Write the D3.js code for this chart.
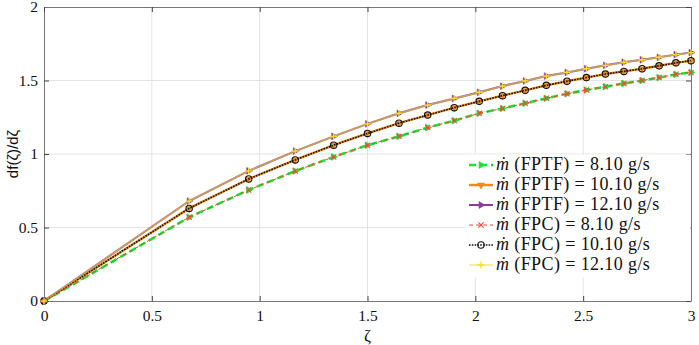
<!DOCTYPE html>
<html>
<head>
<meta charset="utf-8">
<script src="https://cdn.jsdelivr.net/npm/d3@7"></script>
<style>
  body { margin: 0; background: #fff; }
  svg { display: block; }
</style>
</head>
<body>
<svg id="chart" width="699" height="345"></svg>
<script>
// values
const zeta = [0, 0.673, 0.949, 1.165, 1.343, 1.5, 1.646, 1.779, 1.902, 2.018, 2.126, 2.231, 2.329, 2.425, 2.515, 2.603, 2.689, 2.773, 2.852, 2.93, 3.0];

const fptf810  = [0, 0.57, 0.755, 0.884, 0.98, 1.06, 1.12, 1.18, 1.227, 1.277, 1.31, 1.345, 1.379, 1.41, 1.435, 1.458, 1.48, 1.50, 1.52, 1.542, 1.555];
const fptf1010 = [0, 0.63, 0.83, 0.96, 1.06, 1.14, 1.21, 1.265, 1.315, 1.358, 1.397, 1.433, 1.467, 1.495, 1.52, 1.544, 1.562, 1.58, 1.60, 1.62, 1.635];
const fptf1210 = [0, 0.68, 0.885, 1.02, 1.12, 1.205, 1.277, 1.333, 1.378, 1.42, 1.462, 1.497, 1.53, 1.555, 1.58, 1.603, 1.624, 1.641, 1.658, 1.676, 1.69];
const fpc810   = [0, 0.57, 0.755, 0.884, 0.98, 1.06, 1.12, 1.18, 1.227, 1.277, 1.31, 1.345, 1.379, 1.41, 1.435, 1.458, 1.48, 1.50, 1.52, 1.542, 1.555];
const fpc1010  = [0, 0.63, 0.83, 0.96, 1.06, 1.14, 1.21, 1.265, 1.315, 1.358, 1.397, 1.433, 1.467, 1.495, 1.52, 1.544, 1.562, 1.58, 1.60, 1.62, 1.635];
const fpc1210  = [0, 0.68, 0.885, 1.02, 1.12, 1.205, 1.277, 1.333, 1.378, 1.42, 1.462, 1.497, 1.53, 1.555, 1.58, 1.603, 1.624, 1.641, 1.658, 1.676, 1.69];

const xTicks = [0, 0.5, 1, 1.5, 2, 2.5, 3];
const yTicks = [0, 0.5, 1, 1.5, 2];
const legendLabels = [
  '(FPTF) = 8.10 g/s', '(FPTF) = 10.10 g/s', '(FPTF) = 12.10 g/s',
  '(FPC) = 8.10 g/s', '(FPC) = 10.10 g/s', '(FPC) = 12.10 g/s'
];

const series = [
  {vals: fptf810,  color: '#14e62d', width: 2.6, dash: '7,4', marker: 'right', op: 1},
  {vals: fptf1010, color: '#ef8a17', width: 2.4, dash: null,  marker: 'down',  op: 1},
  {vals: fptf1210, color: '#8a3d96', width: 2.0, dash: null,  marker: 'right', op: 1},
  {vals: fpc810,   color: '#f0483c', width: 1.0, dash: '4,3', marker: 'x',     op: 1},
  {vals: fpc1010,  color: '#111111', width: 1.6, dash: '1.6,1.2', marker: 'o', op: 1},
  {vals: fpc1210,  color: '#f2dc3a', width: 1.8, dash: null,  marker: '+',     op: 0.6},
];

const SERIF = '"Liberation Serif"';

const svg = d3.select('#chart');
const L = 44, R = 691, T = 7, B = 301;

const x = d3.scaleLinear().domain([0, 3]).range([L, R]);
const y = d3.scaleLinear().domain([0, 2]).range([B, T]);

// grid
const grid = svg.append('g');
grid.selectAll('.gx').data(xTicks.slice(1, -1)).enter().append('line')
  .attr('x1', d => x(d)).attr('x2', d => x(d)).attr('y1', T).attr('y2', B)
  .attr('stroke', '#e3e3e3').attr('stroke-width', 1);
grid.selectAll('.gy').data(yTicks.slice(1, -1)).enter().append('line')
  .attr('y1', d => y(d)).attr('y2', d => y(d)).attr('x1', L).attr('x2', R)
  .attr('stroke', '#e3e3e3').attr('stroke-width', 1);

// axes, ticks inward
const fmt = d => String(d);
svg.append('g').attr('transform', `translate(0,${B})`)
  .call(d3.axisBottom(x).tickValues(xTicks).tickFormat(fmt).tickSizeInner(-5).tickSizeOuter(0).tickPadding(9));
svg.append('g').attr('transform', `translate(${L},0)`)
  .call(d3.axisLeft(y).tickValues(yTicks).tickFormat(fmt).tickSizeInner(-5).tickSizeOuter(0).tickPadding(6));
svg.append('g').attr('transform', `translate(0,${T})`)
  .call(d3.axisTop(x).tickValues(xTicks).tickFormat('').tickSizeInner(-5).tickSizeOuter(0));
svg.append('g').attr('transform', `translate(${R},0)`)
  .call(d3.axisRight(y).tickValues(yTicks).tickFormat('').tickSizeInner(-5).tickSizeOuter(0));

svg.selectAll('g').attr('font-family', null);
svg.selectAll('.domain').attr('stroke', '#777');
svg.selectAll('.tick line').attr('stroke', '#444');
svg.selectAll('.tick text').attr('fill', '#111')
  .style('font-family', SERIF).style('font-size', '15.5px');

// labels
svg.append('text').attr('x', (L + R) / 2).attr('y', 341).attr('text-anchor', 'middle')
  .style('font-family', SERIF).style('font-size', '17px').attr('fill', '#111').text('ζ');
svg.append('text').attr('transform', `translate(18,${(T + B) / 2}) rotate(-90)`).attr('text-anchor', 'middle')
  .style('font-family', '"Liberation Sans"').style('font-size', '15px').attr('fill', '#111').text('df(ζ)/dζ');

// markers
const drawMarker = function(sel, s) {
  if (s.marker === 'right' || s.marker === 'down') {
    const a = s.marker === 'right' ? 90 : 180;
    sel.append('path').attr('d', d3.symbol(d3.symbolTriangle, 20)())
      .attr('transform', `rotate(${a})`)
      .attr('fill', s.color).attr('stroke', s.color).attr('stroke-width', 0.6);
  } else if (s.marker === 'o') {
    sel.append('circle').attr('r', 3.2).attr('fill', 'none').attr('stroke', s.color).attr('stroke-width', 1.1);
  } else if (s.marker === 'x') {
    const r = 2.6;
    sel.append('path').attr('d', `M${-r},${-r}L${r},${r}M${-r},${r}L${r},${-r}`)
      .attr('stroke', s.color).attr('stroke-width', 1.1).attr('fill', 'none');
  } else if (s.marker === '+') {
    const r = 3.4;
    sel.append('path').attr('d', `M${-r},0H${r}M0,${-r}V${r}`)
      .attr('stroke', '#f5e020').attr('stroke-width', 1.3).attr('fill', 'none');
  }
};

const line = d3.line().x((d, i) => x(zeta[i])).y(d => y(d));
const plot = svg.append('g');
series.forEach(s => {
  plot.append('path').datum(s.vals).attr('d', line)
    .attr('fill', 'none').attr('stroke', s.color).attr('stroke-width', s.width)
    .attr('stroke-opacity', s.op).attr('stroke-dasharray', s.dash);
  plot.append('g').selectAll('g').data(s.vals).enter().append('g')
    .attr('transform', (d, i) => `translate(${x(zeta[i])},${y(d)})`)
    .each(function() { drawMarker(d3.select(this), s); });
});

// legend
const lg = svg.append('g');
lg.append('rect').attr('x', 466).attr('y', 155).attr('width', R - 466 - 1).attr('height', 122)
  .attr('fill', '#fff').attr('stroke', '#fff');
series.forEach((s, i) => {
  const cy = 165 + i * 20;
  lg.append('line').attr('x1', 469).attr('x2', 493).attr('y1', cy).attr('y2', cy)
    .attr('stroke', s.color).attr('stroke-width', s.marker === '+' ? 1 : s.width)
    .attr('stroke-dasharray', s.dash);
  const m = lg.append('g').attr('transform', `translate(481,${cy})`);
  drawMarker(m, s);
  const t = lg.append('text').attr('x', 496).attr('y', cy + 5)
    .style('font-family', SERIF).style('font-size', '18px').style('letter-spacing', '0.4px')
    .attr('fill', '#111');
  t.append('tspan').style('font-style', 'italic').text('ṁ');
  t.append('tspan').text(' ' + legendLabels[i]);
});
</script>
</body>
</html>
